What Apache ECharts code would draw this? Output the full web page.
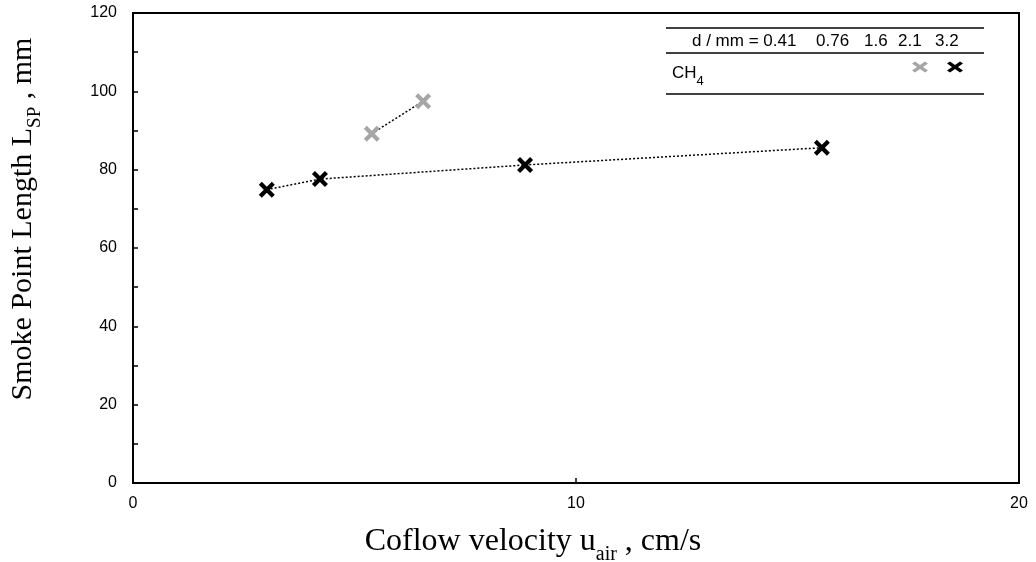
<!DOCTYPE html>
<html>
<head>
<meta charset="utf-8">
<script src="https://cdn.jsdelivr.net/npm/echarts@6/dist/echarts.min.js"></script>
<style>
html, body { margin: 0; padding: 0; background: #fff; }
#chart { width: 1036px; height: 562px; }
</style>
</head>
<body>
<div id="chart"></div>
<script>
// d = 2.1 mm (grey) and d = 3.2 mm (black), CH4
var d21X = [5.39, 6.55];
var d21Y = [89.2, 97.5];
var d32X = [3.02, 4.22, 8.85, 15.55];
var d32Y = [74.9, 77.6, 81.2, 85.6];
var headerTexts = ['d / mm = 0.41', '0.76', '1.6', '2.1', '3.2'];
var headerPos = [692, 816, 864, 898, 935];

var crossPts = [[3,0],[8,5],[13,0],[16,3],[11,8],[16,13],[13,16],[8,11],[3,16],[0,13],[5,8],[0,3]];
var cross = 'path://M' + crossPts.map(function (p) { return p.join(','); }).join(' L') + ' Z';

function pairs(xs, ys) {
    var out = [];
    for (var i = 0; i < xs.length; i++) out.push([xs[i], ys[i]]);
    return out;
}

// legend cross, placed in pixels
function legendCross(cx, cy, w, h, color) {
    return {
        type: 'polygon',
        shape: { points: crossPts.map(function (p) { return [cx - w / 2 + p[0] * w / 16, cy - h / 2 + p[1] * h / 16]; }) },
        style: { fill: color }
    };
}

var graphics = [
    { type: 'line', shape: { x1: 666, y1: 28, x2: 984, y2: 28 }, style: { stroke: '#000', lineWidth: 1.5 } },
    { type: 'line', shape: { x1: 666, y1: 53, x2: 984, y2: 53 }, style: { stroke: '#000', lineWidth: 1.5 } },
    { type: 'line', shape: { x1: 666, y1: 94, x2: 984, y2: 94 }, style: { stroke: '#000', lineWidth: 1.5 } },
    {
        type: 'text', x: 672, y: 73,
        style: {
            text: '{a|CH}{s|4}', verticalAlign: 'middle',
            rich: {
                a: { fontFamily: 'Liberation Sans', fontSize: 17, fill: '#000' },
                s: { fontFamily: 'Liberation Sans', fontSize: 13, fill: '#000', verticalAlign: 'bottom', padding: [0, 0, -6, 0] }
            }
        }
    },
    legendCross(920, 67, 16, 11, '#a6a6a6'),
    legendCross(955, 67, 16, 11, '#000')
];
headerTexts.forEach(function (t, i) {
    graphics.push({
        type: 'text', x: headerPos[i], y: 41,
        style: { text: t, fill: '#000', font: '17px "Liberation Sans"', verticalAlign: 'middle' }
    });
});

var chart = echarts.init(document.getElementById('chart'));
chart.setOption({
    backgroundColor: '#fff',
    animation: false,
    grid: {
        left: 133, right: 17, top: 13, bottom: 79,
        outerBoundsMode: 'none',
        show: true, borderColor: '#000', borderWidth: 2
    },
    xAxis: {
        type: 'value', min: 0, max: 20, interval: 10,
        axisLine: { lineStyle: { color: '#000', width: 2 } },
        axisTick: { inside: true, length: 5, lineStyle: { color: '#000', width: 1.5 } },
        axisLabel: { color: '#000', fontFamily: 'Liberation Sans', fontSize: 16, margin: 13 },
        splitLine: { show: false },
        name: '{a|Coflow velocity u}{s|air}{a| , cm/s}',
        nameLocation: 'middle', nameGap: 43,
        nameTextStyle: {
            padding: [0, 86, 0, 0],
            rich: {
                a: { fontFamily: 'Liberation Serif', fontSize: 32, color: '#000' },
                s: { fontFamily: 'Liberation Serif', fontSize: 20, color: '#000', verticalAlign: 'bottom', padding: [0, 0, -7, 0] }
            }
        }
    },
    yAxis: {
        type: 'value', min: 0, max: 120, interval: 20,
        axisLine: { lineStyle: { color: '#000', width: 2 } },
        axisTick: { inside: true, length: 5, lineStyle: { color: '#000', width: 1.5 } },
        minorTick: { show: true, splitNumber: 2, length: 5, lineStyle: { color: '#000', width: 1.5 } },
        axisLabel: { color: '#000', fontFamily: 'Liberation Sans', fontSize: 16, margin: 16 },
        splitLine: { show: false },
        name: '{a|Smoke Point Length L}{s|SP}{a| , mm}',
        nameLocation: 'middle', nameGap: 95, nameRotate: 90,
        nameTextStyle: {
            padding: [0, 0, 0, 58],
            rich: {
                a: { fontFamily: 'Liberation Serif', fontSize: 30, color: '#000' },
                s: { fontFamily: 'Liberation Serif', fontSize: 19, color: '#000', verticalAlign: 'bottom', padding: [0, 0, -7, 0] }
            }
        }
    },
    series: [
        {
            name: '2.1', type: 'line',
            data: pairs(d21X, d21Y),
            symbol: cross, symbolSize: 16,
            itemStyle: { color: '#a6a6a6' },
            lineStyle: { color: '#000', width: 1.5, type: [2, 2] }
        },
        {
            name: '3.2', type: 'line',
            data: pairs(d32X, d32Y),
            symbol: cross, symbolSize: 16,
            itemStyle: { color: '#000' },
            lineStyle: { color: '#000', width: 1.5, type: [2, 2] }
        }
    ],
    graphic: graphics
});
</script>
</body>
</html>
